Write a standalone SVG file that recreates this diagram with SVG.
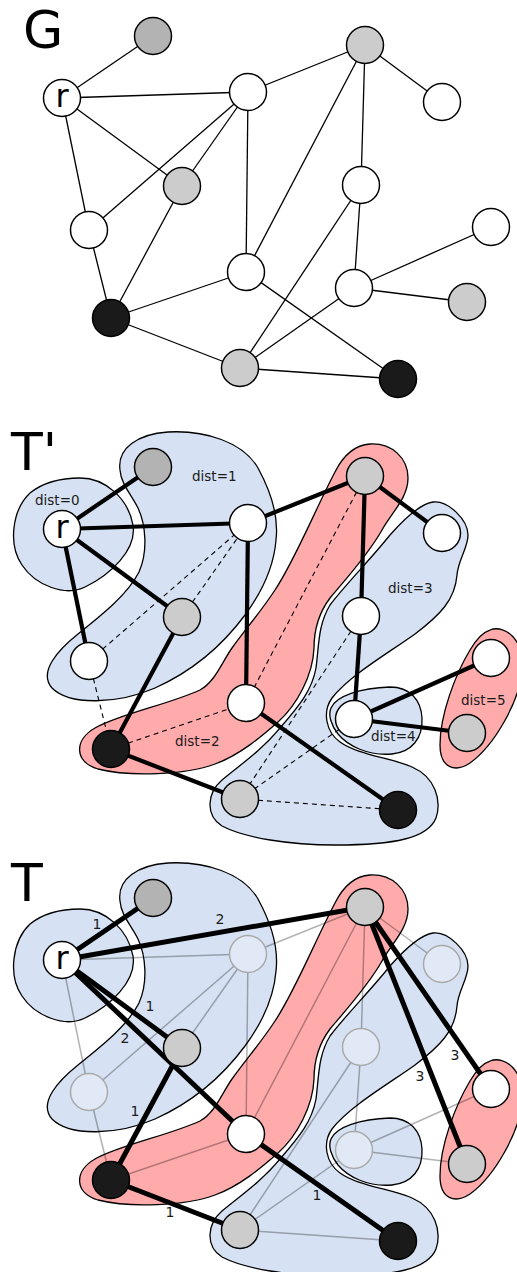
<svg xmlns="http://www.w3.org/2000/svg" width="517" height="1272" viewBox="0 0 517 1272">
<style>
text{font-family:"DejaVu Sans","Liberation Sans",sans-serif;fill:#000}
.title{font-size:52px}
.lbl{font-size:13.5px;fill:#1a1a1a}
.el{font-size:14px;fill:#1a1a1a;text-anchor:middle}
.rt{font-size:32px;text-anchor:middle}
.blue{fill:#d6e2f3;stroke:#000;stroke-width:1.3}
.pink{fill:#ffaaab;stroke:#000;stroke-width:1.3}
.ge line{stroke:#000;stroke-width:1.3}
.th line{stroke:#000;stroke-width:4.2}
.ds line{stroke:#000;stroke-width:1.1;stroke-dasharray:5 4}
.fe line{stroke:#000;stroke-opacity:.3;stroke-width:1.5}
.tt line{stroke:#000;stroke-width:5}
circle{stroke:#000;stroke-width:1.5}
.w{fill:#fff}.d1{fill:#b3b3b3}.l1{fill:#ccc}.k{fill:#1a1a1a}
.fd{fill:#e1e8f6;stroke:#a9a9a9}
</style>
<defs>
<path id="b0" class="blue" d="M 80 478 C 105 478, 128 498, 133 525 C 137 550, 110 575, 85 587 C 65 597, 35 585, 22 565 C 8 545, 12 510, 30 493 C 45 481, 62 478, 80 478 Z"/>
<path id="b1" class="blue" d="M 120 470 C 117 448, 138 434, 168 432 C 205 430, 243 442, 258 468 C 270 490, 279 515, 276 540 C 274 565, 262 592, 245 615 C 225 642, 195 670, 155 688 C 118 704, 70 706, 52 688 C 38 672, 58 650, 78 634 C 103 614, 128 594, 139 572 C 148 552, 146 525, 138 508 C 131 494, 121 484, 120 470 Z"/>
<path id="b2" class="pink" d="M 370 444 C 392 443, 408 458, 408 478 C 408 498, 392 512, 382 530 C 368 555, 345 580, 330 598 C 318 614, 314 630, 314 648 C 313 675, 297 705, 278 722 C 262 736, 240 755, 215 764 C 185 775, 130 777, 98 769 C 74 762, 74 740, 95 728 C 120 714, 170 704, 200 690 C 215 682, 222 662, 232 648 C 245 630, 262 610, 275 590 C 295 560, 315 510, 335 472 C 343 456, 355 445, 370 444 Z"/>
<path id="b3" class="blue" d="M 433 502 C 448 500, 468 520, 468 535 C 468 548, 458 560, 457 575 C 455 600, 440 615, 415 634 C 390 652, 350 675, 332 698 C 322 712, 326 732, 340 742 C 358 755, 392 758, 412 767 C 435 777, 442 800, 436 818 C 428 838, 395 845, 335 845 C 290 845, 245 838, 222 826 C 205 815, 207 793, 222 780 C 240 765, 262 750, 280 728 C 300 705, 312 690, 316 668 C 319 645, 318 625, 330 605 C 345 585, 370 560, 390 535 C 405 518, 420 504, 433 502 Z"/>
<path id="b4" class="blue" d="M 331 708 C 336 696, 360 688, 390 687 C 410 687, 421 700, 422 718 C 423 738, 412 752, 392 754 C 368 756, 348 746, 338 734 C 331 725, 328 715, 331 708 Z"/>
<path id="b5" class="pink" d="M 490 630 C 505 624, 525 640, 522 670 C 520 700, 495 745, 470 763 C 455 773, 440 768, 440 745 C 440 715, 455 675, 470 650 C 477 638, 483 632, 490 630 Z"/>
</defs>

<!-- ============ G ============ -->
<g id="G">
<text class="title" x="23" y="48">G</text>
<g id="G-edges" class="ge">
<line x1="62" y1="98" x2="153" y2="36"/>
<line x1="62" y1="98" x2="248" y2="92"/>
<line x1="62" y1="98" x2="182" y2="186"/>
<line x1="62" y1="98" x2="89" y2="230"/>
<line x1="89" y1="230" x2="111" y2="318"/>
<line x1="89" y1="230" x2="248" y2="92"/>
<line x1="182" y1="186" x2="248" y2="92"/>
<line x1="182" y1="186" x2="111" y2="318"/>
<line x1="248" y1="92" x2="246" y2="272"/>
<line x1="248" y1="92" x2="365" y2="45"/>
<line x1="365" y1="45" x2="442" y2="102"/>
<line x1="365" y1="45" x2="246" y2="272"/>
<line x1="365" y1="45" x2="361" y2="185"/>
<line x1="361" y1="185" x2="354" y2="288"/>
<line x1="361" y1="185" x2="240" y2="368"/>
<line x1="354" y1="288" x2="491" y2="227"/>
<line x1="354" y1="288" x2="467" y2="302"/>
<line x1="354" y1="288" x2="240" y2="368"/>
<line x1="246" y1="272" x2="111" y2="318"/>
<line x1="246" y1="272" x2="398" y2="379"/>
<line x1="111" y1="318" x2="240" y2="368"/>
<line x1="240" y1="368" x2="398" y2="379"/>
</g>
<g id="G-r"><circle class="w" cx="62" cy="98" r="18.5"/><text class="rt" x="62" y="107">r</text></g>
<g id="G-a"><circle class="d1" cx="153" cy="36" r="18.5"/></g>
<g id="G-b"><circle class="w" cx="248" cy="92" r="18.5"/></g>
<g id="G-c"><circle class="l1" cx="365" cy="45" r="18.5"/></g>
<g id="G-d"><circle class="w" cx="442" cy="102" r="18.5"/></g>
<g id="G-e"><circle class="l1" cx="182" cy="186" r="18.5"/></g>
<g id="G-f"><circle class="w" cx="361" cy="185" r="18.5"/></g>
<g id="G-g"><circle class="w" cx="89" cy="230" r="18.5"/></g>
<g id="G-h"><circle class="w" cx="491" cy="227" r="18.5"/></g>
<g id="G-i"><circle class="w" cx="246" cy="272" r="18.5"/></g>
<g id="G-j"><circle class="w" cx="354" cy="288" r="18.5"/></g>
<g id="G-k"><circle class="l1" cx="467" cy="302" r="18.5"/></g>
<g id="G-l"><circle class="k" cx="111" cy="318" r="18.5"/></g>
<g id="G-m"><circle class="l1" cx="240" cy="368" r="18.5"/></g>
<g id="G-n"><circle class="k" cx="398" cy="379" r="18.5"/></g>
</g>

<!-- ============ T' ============ -->
<g id="Tp">
<text class="title" x="11" y="470">T'</text>
<g id="Tp-blobs">
<use href="#b0"/><use href="#b1"/><use href="#b2"/><use href="#b3"/><use href="#b4"/><use href="#b5"/>
</g>
<g id="Tp-labels">
<text class="lbl" x="35" y="505">dist=0</text>
<text class="lbl" x="192" y="481">dist=1</text>
<text class="lbl" x="175" y="746">dist=2</text>
<text class="lbl" x="388" y="593">dist=3</text>
<text class="lbl" x="371" y="741">dist=4</text>
<text class="lbl" x="461" y="705">dist=5</text>
</g>
<g id="Tp-dashed" class="ds">
<line x1="89" y1="661" x2="248" y2="523"/>
<line x1="182" y1="617" x2="248" y2="523"/>
<line x1="89" y1="661" x2="111" y2="749"/>
<line x1="111" y1="749" x2="246" y2="703"/>
<line x1="365" y1="476" x2="246" y2="703"/>
<line x1="361" y1="616" x2="240" y2="799"/>
<line x1="354" y1="719" x2="240" y2="799"/>
<line x1="240" y1="799" x2="398" y2="810"/>
</g>
<g id="Tp-tree" class="th">
<line x1="62" y1="529" x2="153" y2="467"/>
<line x1="62" y1="529" x2="248" y2="523"/>
<line x1="62" y1="529" x2="182" y2="617"/>
<line x1="62" y1="529" x2="89" y2="661"/>
<line x1="182" y1="617" x2="111" y2="749"/>
<line x1="248" y1="523" x2="246" y2="703"/>
<line x1="248" y1="523" x2="365" y2="476"/>
<line x1="365" y1="476" x2="442" y2="533"/>
<line x1="365" y1="476" x2="361" y2="616"/>
<line x1="361" y1="616" x2="354" y2="719"/>
<line x1="354" y1="719" x2="491" y2="658"/>
<line x1="354" y1="719" x2="467" y2="733"/>
<line x1="246" y1="703" x2="398" y2="810"/>
<line x1="111" y1="749" x2="240" y2="799"/>
</g>
<g id="Tp-r"><circle class="w" cx="62" cy="529" r="18.5"/><text class="rt" x="62" y="538">r</text></g>
<g id="Tp-a"><circle class="d1" cx="153" cy="467" r="18.5"/></g>
<g id="Tp-b"><circle class="w" cx="248" cy="523" r="18.5"/></g>
<g id="Tp-c"><circle class="l1" cx="365" cy="476" r="18.5"/></g>
<g id="Tp-d"><circle class="w" cx="442" cy="533" r="18.5"/></g>
<g id="Tp-e"><circle class="l1" cx="182" cy="617" r="18.5"/></g>
<g id="Tp-f"><circle class="w" cx="361" cy="616" r="18.5"/></g>
<g id="Tp-g"><circle class="w" cx="89" cy="661" r="18.5"/></g>
<g id="Tp-h"><circle class="w" cx="491" cy="658" r="18.5"/></g>
<g id="Tp-i"><circle class="w" cx="246" cy="703" r="18.5"/></g>
<g id="Tp-j"><circle class="w" cx="354" cy="719" r="18.5"/></g>
<g id="Tp-k"><circle class="l1" cx="467" cy="733" r="18.5"/></g>
<g id="Tp-l"><circle class="k" cx="111" cy="749" r="18.5"/></g>
<g id="Tp-m"><circle class="l1" cx="240" cy="799" r="18.5"/></g>
<g id="Tp-n"><circle class="k" cx="398" cy="810" r="18.5"/></g>
</g>

<!-- ============ T ============ -->
<g id="T">
<text class="title" x="11" y="901">T</text>
<g transform="translate(0,431)">
<g id="T-blobs">
<use href="#b0"/><use href="#b1"/><use href="#b2"/><use href="#b3"/><use href="#b4"/><use href="#b5"/>
</g>
<g id="T-faded" class="fe">
<line x1="62" y1="529" x2="153" y2="467"/>
<line x1="62" y1="529" x2="248" y2="523"/>
<line x1="62" y1="529" x2="182" y2="617"/>
<line x1="62" y1="529" x2="89" y2="661"/>
<line x1="89" y1="661" x2="111" y2="749"/>
<line x1="89" y1="661" x2="248" y2="523"/>
<line x1="182" y1="617" x2="248" y2="523"/>
<line x1="182" y1="617" x2="111" y2="749"/>
<line x1="248" y1="523" x2="246" y2="703"/>
<line x1="248" y1="523" x2="365" y2="476"/>
<line x1="365" y1="476" x2="442" y2="533"/>
<line x1="365" y1="476" x2="246" y2="703"/>
<line x1="365" y1="476" x2="361" y2="616"/>
<line x1="361" y1="616" x2="354" y2="719"/>
<line x1="361" y1="616" x2="240" y2="799"/>
<line x1="354" y1="719" x2="491" y2="658"/>
<line x1="354" y1="719" x2="467" y2="733"/>
<line x1="354" y1="719" x2="240" y2="799"/>
<line x1="246" y1="703" x2="111" y2="749"/>
<line x1="246" y1="703" x2="398" y2="810"/>
<line x1="111" y1="749" x2="240" y2="799"/>
<line x1="240" y1="799" x2="398" y2="810"/>
</g>
<g id="T-b"><circle class="fd" cx="248" cy="523" r="18.5"/></g>
<g id="T-d"><circle class="fd" cx="442" cy="533" r="18.5"/></g>
<g id="T-f"><circle class="fd" cx="361" cy="616" r="18.5"/></g>
<g id="T-g"><circle class="fd" cx="89" cy="661" r="18.5"/></g>
<g id="T-j"><circle class="fd" cx="354" cy="719" r="18.5"/></g>
<g id="T-tree" class="tt">
<line x1="62" y1="529" x2="153" y2="467"/>
<line x1="62" y1="529" x2="365" y2="476"/>
<line x1="62" y1="529" x2="182" y2="617"/>
<line x1="62" y1="529" x2="246" y2="703"/>
<line x1="182" y1="617" x2="111" y2="749"/>
<line x1="111" y1="749" x2="240" y2="799"/>
<line x1="246" y1="703" x2="398" y2="810"/>
<line x1="365" y1="476" x2="491" y2="658"/>
<line x1="365" y1="476" x2="467" y2="733"/>
</g>
<g id="T-weights">
<text class="el" x="97" y="498">1</text>
<text class="el" x="220" y="493">2</text>
<text class="el" x="150" y="580">1</text>
<text class="el" x="125" y="612">2</text>
<text class="el" x="135" y="685">1</text>
<text class="el" x="170" y="786">1</text>
<text class="el" x="317" y="769">1</text>
<text class="el" x="420" y="650">3</text>
<text class="el" x="455" y="629">3</text>
</g>
<g id="T-r"><circle class="w" cx="62" cy="529" r="18.5"/><text class="rt" x="62" y="538">r</text></g>
<g id="T-a"><circle class="d1" cx="153" cy="467" r="18.5"/></g>
<g id="T-c"><circle class="l1" cx="365" cy="476" r="18.5"/></g>
<g id="T-e"><circle class="l1" cx="182" cy="617" r="18.5"/></g>
<g id="T-h"><circle class="w" cx="491" cy="658" r="18.5"/></g>
<g id="T-i"><circle class="w" cx="246" cy="703" r="18.5"/></g>
<g id="T-k"><circle class="l1" cx="467" cy="733" r="18.5"/></g>
<g id="T-l"><circle class="k" cx="111" cy="749" r="18.5"/></g>
<g id="T-m"><circle class="l1" cx="240" cy="799" r="18.5"/></g>
<g id="T-n"><circle class="k" cx="398" cy="810" r="18.5"/></g>
</g>
</g>
</svg>
